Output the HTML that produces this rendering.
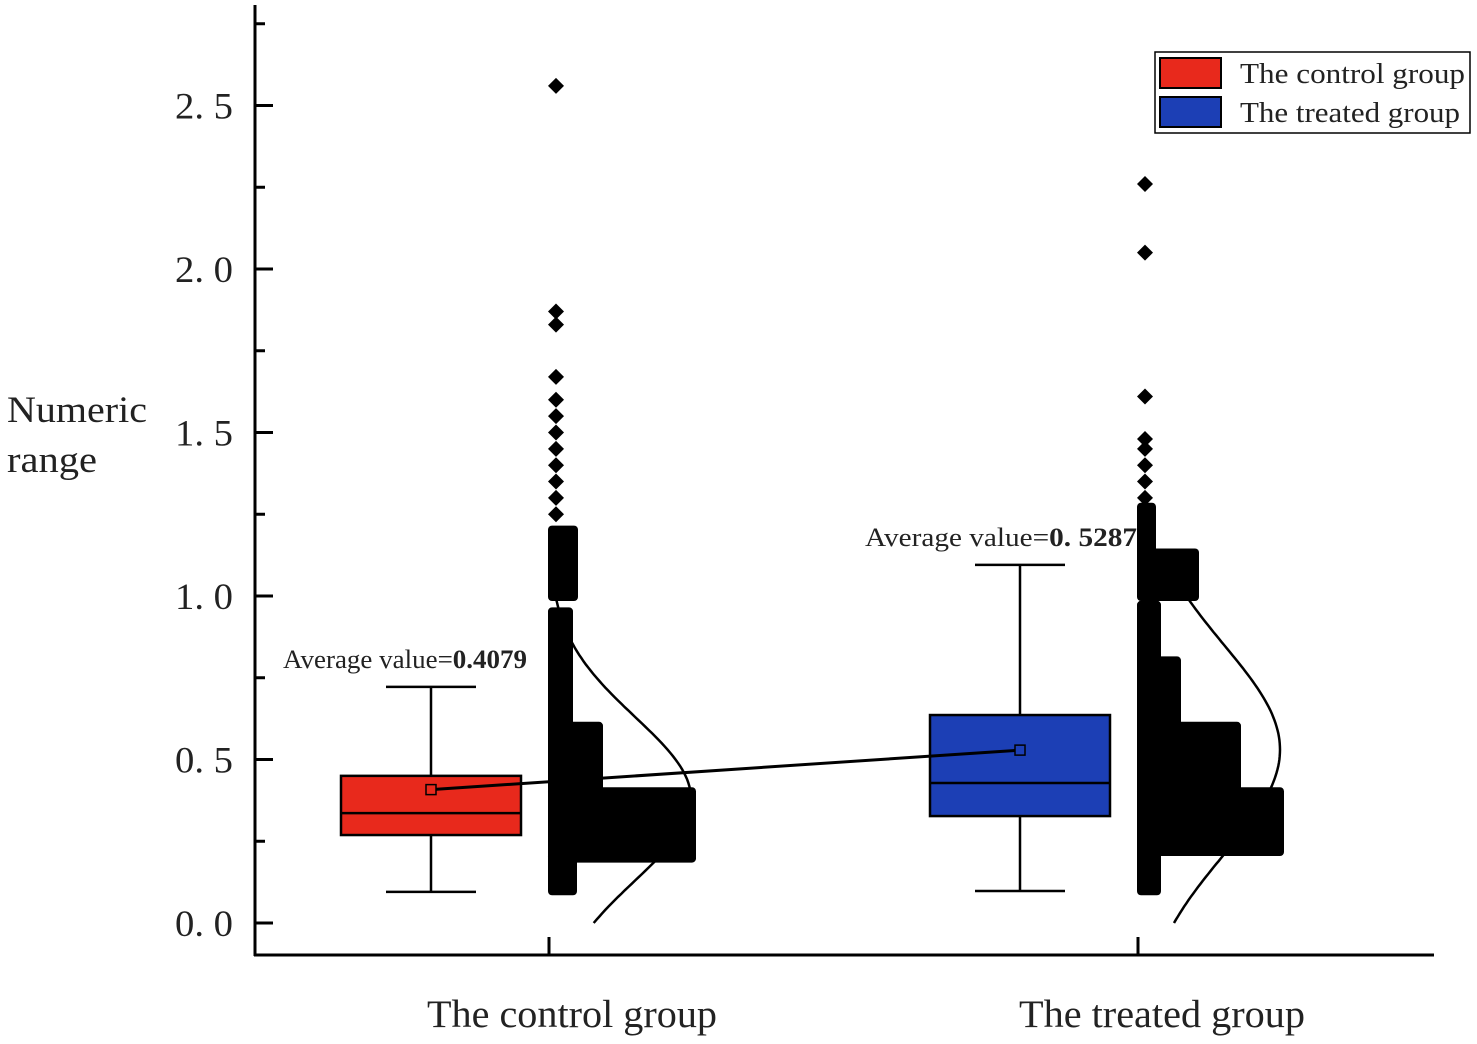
<!DOCTYPE html>
<html><head><meta charset="utf-8"><style>
body{margin:0;background:#fff;}
svg{display:block;}
text{font-family:"Liberation Serif","Noto Serif CJK SC",serif;fill:#222;}
</style></head><body>
<svg id="c" width="1477" height="1044"></svg>
<script>
const categories=["The control group","The treated group"];
const colors=["#e8291c","#1c3fb5"];
const q1=[0.269,0.327], q3=[0.45,0.636], medians=[0.336,0.428];
const whiskLo=[0.095,0.098], whiskHi=[0.722,1.095];
const means=[0.4079,0.5287];
const meanLabels=["0.4079","0. 5287"];
// histogram-like scatter bins: [low, high, count]
const binsControl=[[0.10,0.20,27],[0.20,0.40,146],[0.40,0.60,53],[0.60,0.95,23],[1.00,1.20,28]];
const binsTreated=[[0.10,0.22,22],[0.22,0.40,145],[0.40,0.60,102],[0.60,0.80,42],[0.80,0.97,22],[1.00,1.13,60],[1.13,1.27,17]];
const outControl=[1.25,1.30,1.35,1.40,1.45,1.50,1.55,1.60,1.67,1.83,1.87,2.56];
const outTreated=[1.30,1.35,1.40,1.45,1.48,1.61,2.05,2.26];
const normMean=[0.38,0.53], normSd=[0.25,0.32];
const yTicks=[0,0.5,1.0,1.5,2.0,2.5];
const yTickLabels=["0. 0","0. 5","1. 0","1. 5","2. 0","2. 5"];

const svg=document.getElementById('c');
const NS="http://www.w3.org/2000/svg";
const Y=v=>923-v*327;
const catX=[549,1138];
const boxOff=-118, boxHalf=90;
function mk(tag,attrs,parent){const e=document.createElementNS(NS,tag);for(const k in attrs)e.setAttribute(k,attrs[k]);(parent||svg).appendChild(e);return e;}

let e=mk('line',{x1:255,y1:5,x2:255,y2:956,stroke:'#000','stroke-width':3});


e=mk('line',{x1:254,y1:955,x2:1434,y2:955,stroke:'#000','stroke-width':3});


yTicks.forEach((v,i)=>{
  let t=mk('line',{x1:255,y1:Y(v),x2:273,y2:Y(v),stroke:'#000','stroke-width':3});
  
  
  let m=mk('line',{x1:255,y1:Y(v+0.25),x2:265,y2:Y(v+0.25),stroke:'#000','stroke-width':3});
  
  
  let l=mk('text',{x:175,y:Y(v)+13,'font-size':37,textLength:58,lengthAdjust:'spacingAndGlyphs'});
  l.textContent=yTickLabels[i];
  
  
});
const xLabX=[427,1019], xLabW=[290,286];
catX.forEach((x,i)=>{
  let t=mk('line',{x1:x,y1:955,x2:x,y2:937,stroke:'#000','stroke-width':3});
  
  
  let l=mk('text',{x:xLabX[i],y:1027,'font-size':39,textLength:xLabW[i],lengthAdjust:'spacingAndGlyphs'});
  l.textContent=categories[i];
  
  
});
let yt=mk('text',{x:7,y:422,'font-size':37,textLength:140,lengthAdjust:'spacingAndGlyphs'});yt.textContent='Numeric';


yt=mk('text',{x:7,y:472,'font-size':37,textLength:90,lengthAdjust:'spacingAndGlyphs'});yt.textContent='range';



[0,1].forEach(i=>{
  let d='';
  for(let v=0;v<=1.0;v+=0.01){const z=(v-normMean[i])/normSd[i];const x=catX[i]+142*Math.exp(-z*z/2);d+=(d?'L':'M')+x.toFixed(1)+','+Y(v).toFixed(1);}
  let p=mk('path',{d:d,fill:'none',stroke:'#000','stroke-width':2.5});
  
  
});

[binsControl,binsTreated].forEach((bins,i)=>{
  bins.forEach(b=>{
    let r=mk('rect',{x:catX[i]-1,y:Y(b[1])-5,width:b[2]+2,height:Y(b[0])-Y(b[1])+10,fill:'#000',rx:4});
    
    
  });
});
[outControl,outTreated].forEach((arr,i)=>{
  arr.forEach(v=>{
    const cx=catX[i]+7,cy=Y(v);
    let p=mk('polygon',{points:`${cx},${cy-8} ${cx+8},${cy} ${cx},${cy+8} ${cx-8},${cy}`,fill:'#000'});
    
    
  });
});

const annX=[283,865], annW=[244,272];
[0,1].forEach(i=>{
  const cx=catX[i]+boxOff;
  let w=mk('line',{x1:cx,y1:Y(whiskLo[i]),x2:cx,y2:Y(whiskHi[i]),stroke:'#000','stroke-width':2.5});
  
  
  [whiskLo[i],whiskHi[i]].forEach(v=>{
    let c=mk('line',{x1:cx-45,y1:Y(v),x2:cx+45,y2:Y(v),stroke:'#000','stroke-width':2.5});
    
    
  });
  let b=mk('rect',{x:cx-boxHalf,y:Y(q3[i]),width:boxHalf*2,height:Y(q1[i])-Y(q3[i]),fill:colors[i],stroke:'#000','stroke-width':2.5});
  
  
  let m=mk('line',{x1:cx-boxHalf,y1:Y(medians[i]),x2:cx+boxHalf,y2:Y(medians[i]),stroke:'#000','stroke-width':2.5});
  
  
});
let ml=mk('line',{x1:catX[0]+boxOff,y1:Y(means[0]),x2:catX[1]+boxOff,y2:Y(means[1]),stroke:'#000','stroke-width':3});


[0,1].forEach(i=>{
  const cx=catX[i]+boxOff;
  let s=mk('rect',{x:cx-5,y:Y(means[i])-5,width:10,height:10,fill:colors[i],stroke:'#000','stroke-width':1.5});
  
  
  let t=mk('text',{x:annX[i],y:Y(whiskHi[i])-19,'font-size':26,textLength:annW[i],lengthAdjust:'spacingAndGlyphs'});
  t.innerHTML='Average value=<tspan font-weight="bold">'+meanLabels[i]+'</tspan>';
  
  
});

const lg=mk('g',{});


mk('rect',{x:1155,y:52,width:315,height:81,fill:'#fff',stroke:'#000','stroke-width':1.5},lg);
const legW=[225,220];
[0,1].forEach(i=>{
  let sw=mk('rect',{x:1160,y:58+i*39,width:61,height:30,fill:colors[i],stroke:'#000','stroke-width':2},lg);
  
  
  let t=mk('text',{x:1240,y:83+i*39,'font-size':28,textLength:legW[i],lengthAdjust:'spacingAndGlyphs'},lg);
  t.textContent=categories[i];
  
  
});
</script>
</body></html>
